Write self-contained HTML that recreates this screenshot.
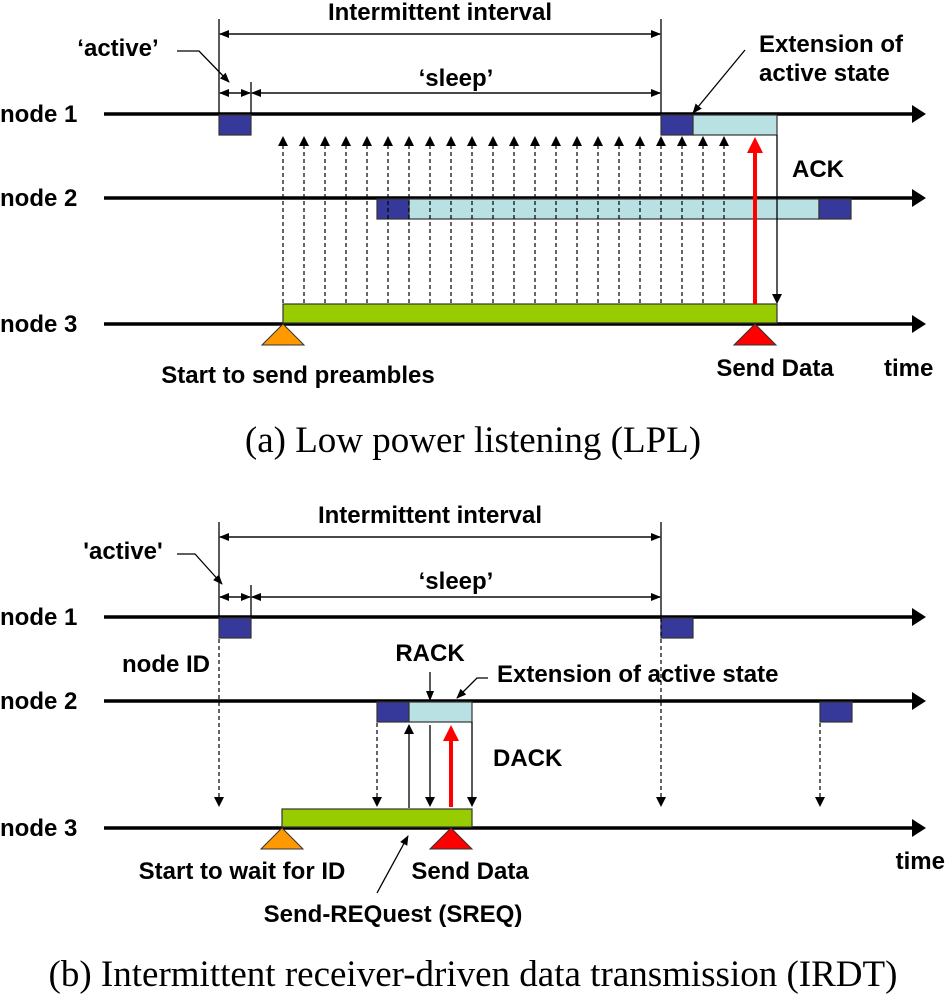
<!DOCTYPE html>
<html><head><meta charset="utf-8"><style>
html,body{margin:0;padding:0;background:#fff;}
svg{display:block;}
.t{font-family:"Liberation Sans",Arial,sans-serif;font-weight:bold;font-size:24px;fill:#000;}
.c{font-family:"Liberation Serif","Times New Roman",serif;font-size:37px;fill:#000;}
</style></head><body>
<svg width="946" height="1000" viewBox="0 0 946 1000" xmlns="http://www.w3.org/2000/svg">
<defs>
<marker id="a" markerWidth="10" markerHeight="10" refX="9" refY="5" orient="auto" markerUnits="userSpaceOnUse"><path d="M0,1 L10,5 L0,9 z" fill="#000"/></marker>
</defs>

<!-- ================= Panel A ================= -->
<g stroke="#000" stroke-width="1.3" fill="none">
<line x1="219" y1="19" x2="219" y2="114"/>
<line x1="661" y1="19" x2="661" y2="114"/>
<line x1="251" y1="82" x2="251" y2="114"/>
<line x1="220" y1="34" x2="660" y2="34" marker-end="url(#a)"/>
<line x1="660" y1="34" x2="220" y2="34" marker-end="url(#a)"/>
<line x1="220" y1="93" x2="250" y2="93" marker-end="url(#a)"/>
<line x1="250" y1="93" x2="220" y2="93" marker-end="url(#a)"/>
<line x1="252" y1="93" x2="660" y2="93" marker-end="url(#a)"/>
<line x1="660" y1="93" x2="252" y2="93" marker-end="url(#a)"/>
<polyline points="177,51 199,51 229,82" marker-end="url(#a)"/>
<line x1="745" y1="50" x2="693" y2="113" marker-end="url(#a)"/>
</g>
<g stroke="#000" stroke-width="3.5">
<line x1="104" y1="114" x2="915" y2="114"/>
<line x1="104" y1="198" x2="915" y2="198"/>
<line x1="104" y1="324" x2="915" y2="324"/>
</g>
<g fill="#000">
<path d="M912,105 L926,114 L912,123 z"/>
<path d="M912,189 L926,198 L912,207 z"/>
<path d="M912,315 L926,324 L912,333 z"/>
</g>
<g stroke="#333" stroke-width="1.2">
<rect x="219" y="115" width="32" height="20" fill="#36399a"/>
<rect x="661" y="115" width="32" height="20" fill="#36399a"/>
<rect x="693" y="115" width="84" height="20" fill="#b9e1e3"/>
<rect x="377" y="199" width="32" height="20" fill="#36399a"/>
<rect x="409" y="199" width="410" height="20" fill="#b9e1e3"/>
<rect x="819" y="199" width="32" height="20" fill="#36399a"/>
<rect x="283" y="304" width="494" height="19" fill="#99cc00"/>
</g>
<g stroke="#000" stroke-width="1.2" stroke-dasharray="4,3" fill="none">
<path d="M283,303V145 M304,303V145 M325,303V145 M346,303V145 M367,303V145 M388,303V145 M409,303V145 M430,303V145 M451,303V145 M472,303V145 M493,303V145 M514,303V145 M535,303V145 M556,303V145 M577,303V145 M598,303V145 M619,303V145 M640,303V145 M661,303V145 M682,303V145 M703,303V145 M724,303V145"/>
</g>
<g fill="#000">
<path d="M278,146 L283,136 L288,146z M299,146 L304,136 L309,146z M320,146 L325,136 L330,146z M341,146 L346,136 L351,146z M362,146 L367,136 L372,146z M383,146 L388,136 L393,146z M404,146 L409,136 L414,146z M425,146 L430,136 L435,146z M446,146 L451,136 L456,146z M467,146 L472,136 L477,146z M488,146 L493,136 L498,146z M509,146 L514,136 L519,146z M530,146 L535,136 L540,146z M551,146 L556,136 L561,146z M572,146 L577,136 L582,146z M593,146 L598,136 L603,146z M614,146 L619,136 L624,146z M635,146 L640,136 L645,146z M656,146 L661,136 L666,146z M677,146 L682,136 L687,146z M698,146 L703,136 L708,146z M719,146 L724,136 L729,146z"/>
</g>
<line x1="777" y1="135" x2="777" y2="294" stroke="#000" stroke-width="1.3"/>
<path d="M772,294 L777,304 L782,294z" fill="#000"/>
<line x1="755" y1="304" x2="755" y2="152" stroke="#f00" stroke-width="4"/>
<path d="M747,153 L755,137 L763,153z" fill="#f00"/>
<path d="M262,345 L283,324 L304,345z" fill="#ff9900" stroke="#333" stroke-width="1"/>
<path d="M734,345 L755,324 L776,345z" fill="#f00" stroke="#333" stroke-width="1"/>

<text class="t" x="440" y="20" text-anchor="middle">Intermittent interval</text>
<text class="t" x="118" y="56" text-anchor="middle">‘active’</text>
<text class="t" x="456" y="86" text-anchor="middle">‘sleep’</text>
<text class="t" x="759" y="52">Extension of</text>
<text class="t" x="759" y="81">active state</text>
<text class="t" x="0" y="122">node 1</text>
<text class="t" x="0" y="206">node 2</text>
<text class="t" x="0" y="332">node 3</text>
<text class="t" x="792" y="177">ACK</text>
<text class="t" x="298" y="383" text-anchor="middle">Start to send preambles</text>
<text class="t" x="775" y="376" text-anchor="middle">Send Data</text>
<text class="t" x="884" y="376">time</text>
<text class="c" x="473" y="452" text-anchor="middle">(a)  Low power listening (LPL)</text>

<!-- ================= Panel B ================= -->
<g stroke="#000" stroke-width="1.3" fill="none">
<line x1="219" y1="522" x2="219" y2="617"/>
<line x1="661" y1="522" x2="661" y2="617"/>
<line x1="251" y1="585" x2="251" y2="617"/>
<line x1="220" y1="537" x2="660" y2="537" marker-end="url(#a)"/>
<line x1="660" y1="537" x2="220" y2="537" marker-end="url(#a)"/>
<line x1="220" y1="597" x2="250" y2="597" marker-end="url(#a)"/>
<line x1="250" y1="597" x2="220" y2="597" marker-end="url(#a)"/>
<line x1="252" y1="597" x2="660" y2="597" marker-end="url(#a)"/>
<line x1="660" y1="597" x2="252" y2="597" marker-end="url(#a)"/>
<polyline points="177,554 195,554 222,584" marker-end="url(#a)"/>
<polyline points="488,678 477,678 457,698" marker-end="url(#a)"/>
<line x1="430" y1="672" x2="430" y2="700" marker-end="url(#a)"/>
<line x1="377" y1="893" x2="408" y2="836" marker-end="url(#a)"/>
</g>
<g stroke="#000" stroke-width="3.5">
<line x1="104" y1="617" x2="915" y2="617"/>
<line x1="104" y1="701" x2="915" y2="701"/>
<line x1="104" y1="828" x2="915" y2="828"/>
</g>
<g fill="#000">
<path d="M912,608 L926,617 L912,626 z"/>
<path d="M912,692 L926,701 L912,710 z"/>
<path d="M912,819 L926,828 L912,837 z"/>
</g>
<g stroke="#333" stroke-width="1.2">
<rect x="219" y="618" width="32" height="20" fill="#36399a"/>
<rect x="661" y="618" width="32" height="20" fill="#36399a"/>
<rect x="377" y="702" width="32" height="20" fill="#36399a"/>
<rect x="409" y="702" width="63" height="20" fill="#b9e1e3"/>
<rect x="820" y="702" width="32" height="20" fill="#36399a"/>
<rect x="282" y="809" width="190" height="18" fill="#99cc00"/>
</g>
<g stroke="#000" stroke-width="1.2" stroke-dasharray="4,3" fill="none">
<path d="M219,639V797 M661,618V797 M820,723V797 M377,723V797"/>
</g>
<g fill="#000">
<path d="M214,797 L219,807 L224,797z M656,797 L661,807 L666,797z M815,797 L820,807 L825,797z M372,797 L377,807 L382,797z"/>
<path d="M404,734 L409,724 L414,734z M425,797 L430,807 L435,797z M467,797 L472,807 L477,797z"/>
</g>
<g stroke="#000" stroke-width="1.3">
<line x1="409" y1="808" x2="409" y2="733"/>
<line x1="430" y1="725" x2="430" y2="798"/>
<line x1="472" y1="722" x2="472" y2="798"/>
</g>
<line x1="451" y1="807" x2="451" y2="740" stroke="#f00" stroke-width="4"/>
<path d="M443,741 L451,725 L459,741z" fill="#f00"/>
<path d="M261,849 L282,828 L303,849z" fill="#ff9900" stroke="#333" stroke-width="1"/>
<path d="M430,849 L451,828 L472,849z" fill="#f00" stroke="#333" stroke-width="1"/>

<text class="t" x="430" y="523" text-anchor="middle">Intermittent interval</text>
<text class="t" x="123" y="559" text-anchor="middle">'active'</text>
<text class="t" x="456" y="589" text-anchor="middle">‘sleep’</text>
<text class="t" x="0" y="625">node 1</text>
<text class="t" x="0" y="709">node 2</text>
<text class="t" x="0" y="836">node 3</text>
<text class="t" x="122" y="672">node ID</text>
<text class="t" x="430" y="661" text-anchor="middle">RACK</text>
<text class="t" x="497" y="682">Extension of active state</text>
<text class="t" x="493" y="766">DACK</text>
<text class="t" x="242" y="879" text-anchor="middle">Start to wait for ID</text>
<text class="t" x="470" y="879" text-anchor="middle">Send Data</text>
<text class="t" x="393" y="922" text-anchor="middle">Send-REQuest (SREQ)</text>
<text class="t" x="945" y="869" text-anchor="end">time</text>
<text class="c" x="473" y="986" text-anchor="middle">(b)  Intermittent receiver-driven data transmission (IRDT)</text>
</svg>
</body></html>
